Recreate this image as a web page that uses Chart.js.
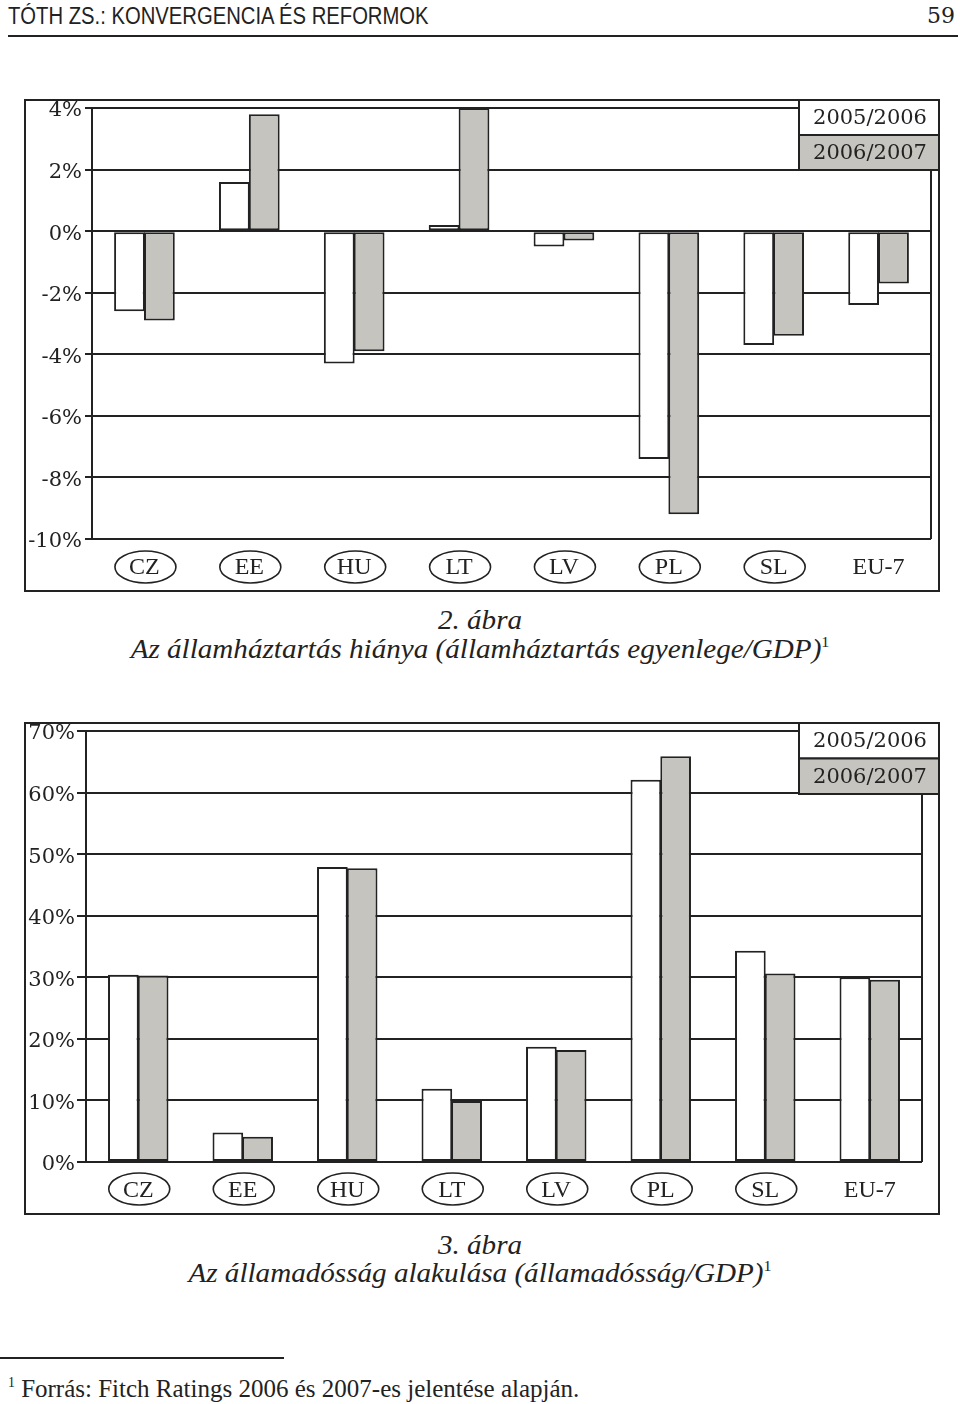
<!DOCTYPE html>
<html>
<head>
<meta charset="utf-8">
<script src="https://cdn.jsdelivr.net/npm/chart.js@4.4.0/dist/chart.umd.min.js"></script>
<style>
  body { margin: 0; width: 960px; height: 1404px; background: #fff; position: relative; overflow: hidden; color: #222; }
  .abs { position: absolute; }
  .head { left: 8px; top: 3px; font-family: "Liberation Sans", Arial, sans-serif; font-size: 23px; transform: scaleX(0.88); transform-origin: left top; white-space: nowrap; }
  .page { right: 5px; top: 3px; font-family: "DejaVu Serif", serif; font-size: 22px; }
  .rule { left: 8px; top: 35px; width: 950px; height: 0; border-top: 2.5px solid #222; }
  .box { left: 24px; width: 916px; height: 493px; }
  .cap { left: 0; width: 960px; text-align: center; font-family: "Liberation Serif", serif; font-style: italic; font-size: 28px; line-height: 28px; white-space: nowrap; transform: scaleX(1.04); transform-origin: center top; }
  .foot { left: 8px; top: 1375px; font-family: "Liberation Serif", serif; font-size: 25px; white-space: nowrap; }
  .frule { left: 0; top: 1357px; width: 284px; border-top: 2px solid #222; }
  sup { font-size: 55%; vertical-align: 0.7em; line-height: 0; font-style: normal; }
</style>
</head>
<body>
<div class="abs head">TÓTH ZS.: KONVERGENCIA ÉS REFORMOK</div>
<div class="abs page">59</div>
<div class="abs rule"></div>

<div class="abs box" style="top:99px"><canvas id="chart1"></canvas></div>
<div class="abs cap" style="top:606px">2. ábra</div>
<div class="abs cap" style="top:635px">Az államháztartás hiánya (államháztartás egyenlege/GDP)<sup>1</sup></div>

<div class="abs box" style="top:722px"><canvas id="chart2"></canvas></div>
<div class="abs cap" style="top:1231px">3. ábra</div>
<div class="abs cap" style="top:1259px">Az államadósság alakulása (államadósság/GDP)<sup>1</sup></div>

<div class="abs frule"></div>
<div class="abs foot"><sup>1</sup> Forrás: Fitch Ratings 2006 és 2007-es jelentése alapján.</div>

<script>
const countries = ['CZ', 'EE', 'HU', 'LT', 'LV', 'PL', 'SL', 'EU-7'];
const circled = ['CZ', 'EE', 'HU', 'LT', 'LV', 'PL', 'SL'];
const seriesLabels = ['2005/2006', '2006/2007'];

// 2. ábra: balance / GDP, %
const deficit0506 = [-2.6, 1.6, -4.3, 0.2, -0.5, -7.4, -3.7, -2.4];
const deficit0607 = [-2.9, 3.8, -3.9, 4.0, -0.3, -9.2, -3.4, -1.7];
const deficitMin = -10, deficitMax = 4, deficitStep = 2;

// 3. ábra: debt / GDP, %
const debt0506 = [30.4, 4.8, 47.9, 11.9, 18.7, 62.1, 34.3, 30.0];
const debt0607 = [30.3, 4.1, 47.7, 9.9, 18.2, 65.9, 30.6, 29.6];
const debtMin = 0, debtMax = 70, debtStep = 10;

const INK = '#222';
const GREY = '#c6c4bf';

const framePlugin = {
    id: 'frame',
    afterDraw(chart, args, opts) {
        const ctx = chart.ctx;
        const area = chart.chartArea;
        const w = chart.width, h = chart.height;
        ctx.save();
        ctx.strokeStyle = INK;
        ctx.lineWidth = 2;
        // right edge of plot
        ctx.beginPath();
        ctx.moveTo(area.right, area.top);
        ctx.lineTo(area.right, area.bottom);
        ctx.stroke();
        // outer frame
        ctx.strokeRect(1, 1, w - 2, h - 2);
        // circled country codes
        const xs = chart.scales.x;
        const cy = area.bottom + opts.labelOffset;
        countries.forEach((c, i) => {
            if (!circled.includes(c)) return;
            ctx.beginPath();
            ctx.ellipse(xs.getPixelForTick(i) + 1, cy, 30.5, 16, 0, 0, Math.PI * 2);
            ctx.lineWidth = 1.6;
            ctx.stroke();
        });
        // legend box
        const lx = opts.legendX, lw = w - 1 - lx, rh = opts.rowH;
        chart.data.datasets.forEach((ds, i) => {
            const y = 1 + i * rh;
            ctx.fillStyle = ds.backgroundColor;
            ctx.fillRect(lx, y, lw, rh);
            ctx.lineWidth = 2;
            ctx.strokeRect(lx, y, lw, rh);
            ctx.fillStyle = INK;
            ctx.font = '21px "DejaVu Serif", serif';
            ctx.textAlign = 'center';
            ctx.textBaseline = 'middle';
            ctx.fillText(ds.label, lx + lw / 2 + 1, y + rh / 2 + 1);
        });
        ctx.restore();
    }
};

const makeChart = (id, a, b, min, max, step, yWidth, rightPad, tickLen, tickPad, labelOffset, rowH) => {
    const ctx = document.getElementById(id).getContext('2d');
    return new Chart(ctx, {
        type: 'bar',
        data: {
            labels: countries,
            datasets: [{
                label: seriesLabels[0],
                data: a,
                backgroundColor: '#ffffff',
                borderColor: INK,
                borderWidth: 2,
                borderSkipped: false,
                categoryPercentage: 0.57,
                barPercentage: 1.03
            }, {
                label: seriesLabels[1],
                data: b,
                backgroundColor: GREY,
                borderColor: INK,
                borderWidth: 2,
                borderSkipped: false,
                categoryPercentage: 0.57,
                barPercentage: 1.03
            }]
        },
        options: {
            responsive: true,
            maintainAspectRatio: false,
            animation: false,
            layout: { padding: { top: 9, right: rightPad, left: 0, bottom: 0 } },
            plugins: {
                legend: { display: false },
                tooltip: { enabled: false },
                frame: { legendX: 775, rowH: rowH, labelOffset: labelOffset }
            },
            scales: {
                x: {
                    grid: { display: false, drawTicks: false },
                    border: { display: false },
                    ticks: {
                        color: INK,
                        padding: 14,
                        font: { family: '"Liberation Serif", serif', size: 24 }
                    },
                    afterFit: s => { s.height = 53; s.paddingLeft = 0; s.paddingRight = 0; }
                },
                y: {
                    min: min,
                    max: max,
                    grid: { color: INK, lineWidth: 2, tickLength: tickLen },
                    border: { display: true, color: INK, width: 2 },
                    ticks: {
                        stepSize: step,
                        color: INK,
                        padding: tickPad,
                        labelOffset: 3,
                        font: { family: '"DejaVu Serif", serif', size: 21 },
                        callback: v => v + '%'
                    },
                    afterFit: s => { s.width = yWidth; s.paddingTop = 0; s.paddingBottom = 0; }
                }
            }
        },
        plugins: [framePlugin]
    });
};

makeChart('chart1', deficit0506, deficit0607, deficitMin, deficitMax, deficitStep, 68, 9, 7, 3, 28, 35);
makeChart('chart2', debt0506, debt0607, debtMin, debtMax, debtStep, 62, 18, 9, 2, 27, 35.5);
</script>
</body>
</html>
